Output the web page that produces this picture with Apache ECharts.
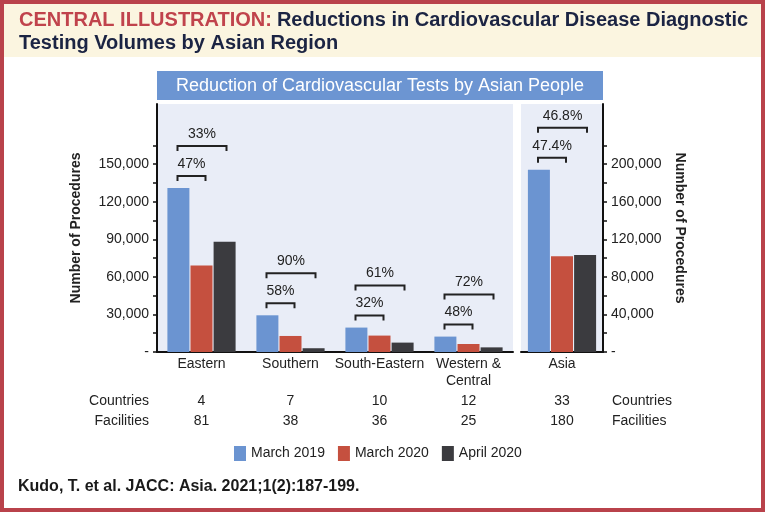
<!DOCTYPE html>
<html>
<head>
<meta charset="utf-8">
<script src="https://cdn.jsdelivr.net/npm/echarts@6/dist/echarts.min.js"></script>
<style>
  html, body { margin: 0; padding: 0; background: #fff; }
  #chart { width: 765px; height: 512px; }
</style>
</head>
<body>
<div id="chart"></div>
<script>
// regional volumes (left panel)
const regions = ['Eastern', 'Southern', 'South-Eastern', 'Western &\nCentral']
const mar2019 = [131000, 29300, 19500, 12300]
const mar2020 = [69000, 12800, 13100, 6400]
const apr2020 = [88000, 3000, 7500, 3700]
const dropMar = ['47%', '58%', '32%', '48%']
const dropApr = ['33%', '90%', '61%', '72%']
const countries = [4, 7, 10, 12]
const facilities = [81, 38, 36, 25]

// whole of Asia (right panel)
const total = ['Asia']
const totalMar2019 = [194000]
const totalMar2020 = [101800]
const totalApr2020 = [103200]
const totalDropMar = ['47.4%']
const totalDropApr = ['46.8%']
const totalCountries = [33]
const totalFacilities = [180]

const leftLabels = [0, 30000, 60000, 90000, 120000, 150000]
const leftTicks = [0, 15000, 30000, 45000, 60000, 75000, 90000, 105000, 120000, 135000, 150000, 165000]
const rightLabels = [0, 40000, 80000, 120000, 160000, 200000]
const rightTicks = [0, 20000, 40000, 60000, 80000, 100000, 120000, 140000, 160000, 180000, 200000, 220000]

const FONT = "'Liberation Sans', Arial, sans-serif"
const INK = '#222'
const BLUE = '#6b94d1'
const RED = '#c5503f'
const DARK = '#3b3b3f'

const chart = echarts.init(document.getElementById('chart'))

function fmt(v) {
  return v === 0 ? '-' : v.toLocaleString('en-US')
}

function bracket(x0, x1, y) {
  return {
    type: 'polyline',
    shape: { points: [[x0, y + 5], [x0, y], [x1, y], [x1, y + 5]] },
    style: { stroke: INK, lineWidth: 2, fill: null }
  }
}

function pctText(txt, x, y) {
  return {
    type: 'text',
    style: {
      text: txt, x: x, y: y, align: 'center', verticalAlign: 'middle',
      fontSize: 14, fill: INK, fontFamily: FONT
    }
  }
}

// brackets sit above the March 2019 bar of each group
function bracketRenderer(base, labMar, labApr) {
  return function (params, api) {
    const i = params.dataIndex
    const top = api.coord([i, base[i]])
    const cx = top[0]
    const y1 = top[1] - 12
    const y2 = y1 - 30
    const x0 = cx - 24
    return {
      type: 'group',
      children: [
        bracket(x0, cx + 4, y1),
        pctText(labMar[i], (x0 + cx + 4) / 2, y1 - 12),
        bracket(x0, cx + 25, y2),
        pctText(labApr[i], (x0 + cx + 25) / 2, y2 - 12)
      ]
    }
  }
}

function rowAxis(gridIndex, data, offset) {
  return {
    type: 'category', gridIndex: gridIndex, position: 'bottom', offset: offset,
    data: data,
    axisLine: { show: false }, axisTick: { show: false },
    axisLabel: { margin: 4, fontSize: 14, lineHeight: 17, color: INK, fontFamily: FONT }
  }
}

function catAxis(gridIndex, data) {
  return {
    type: 'category', gridIndex: gridIndex, position: 'bottom',
    data: data,
    axisLine: { lineStyle: { color: '#111', width: 2 } },
    axisTick: { show: false },
    axisLabel: { margin: 4, fontSize: 14, lineHeight: 17, color: INK, fontFamily: FONT, interval: 0 }
  }
}

const barBase = { type: 'bar', barWidth: 22, barGap: '5%', silent: true }

chart.setOption({
  animation: false,
  textStyle: { fontFamily: FONT },
  title: [
    {
      left: 14, top: 4,
      text: '{r|CENTRAL ILLUSTRATION:} {b|Reductions in Cardiovascular Disease Diagnostic}\n{b|Testing Volumes by Asian Region}',
      textStyle: {
        rich: {
          r: { fontSize: 20, fontWeight: 'bold', color: '#c0434c', fontFamily: FONT, lineHeight: 23 },
          b: { fontSize: 20, fontWeight: 'bold', color: '#1b2443', fontFamily: FONT, lineHeight: 23 }
        }
      }
    },
    {
      left: 13, top: 474,
      text: 'Kudo, T. et al. JACC: Asia. 2021;1(2):187-199.',
      textStyle: { fontSize: 16, fontWeight: 'bold', color: '#1a1a1a', fontFamily: FONT }
    }
  ],
  graphic: [
    { type: 'rect', z: 0, shape: { x: 4, y: 4, width: 757, height: 53 }, style: { fill: '#fbf5e0' } },
    { type: 'rect', z: 10, shape: { x: 2, y: 2, width: 761, height: 508 }, style: { fill: null, stroke: '#b9424b', lineWidth: 4 } },
    { type: 'rect', shape: { x: 157, y: 71, width: 446, height: 29 }, style: { fill: '#6c95d2' } },
    {
      type: 'text', style: {
        text: 'Reduction of Cardiovascular Tests by Asian People', x: 380, y: 86,
        align: 'center', verticalAlign: 'middle', fontSize: 18, fill: '#fff', fontFamily: FONT
      }
    },
    { type: 'text', style: { text: 'Countries', x: 149, y: 401, align: 'right', verticalAlign: 'middle', fontSize: 14, fill: INK, fontFamily: FONT } },
    { type: 'text', style: { text: 'Facilities', x: 149, y: 421, align: 'right', verticalAlign: 'middle', fontSize: 14, fill: INK, fontFamily: FONT } },
    { type: 'text', style: { text: 'Countries', x: 612, y: 401, align: 'left', verticalAlign: 'middle', fontSize: 14, fill: INK, fontFamily: FONT } },
    { type: 'text', style: { text: 'Facilities', x: 612, y: 421, align: 'left', verticalAlign: 'middle', fontSize: 14, fill: INK, fontFamily: FONT } }
  ],
  legend: {
    left: 229, top: 441,
    data: ['March 2019', 'March 2020', 'April 2020'],
    icon: 'rect', itemWidth: 12, itemHeight: 15, itemGap: 13,
    textStyle: { fontSize: 14, color: INK, fontFamily: FONT }
  },
  grid: [
    { left: 157, top: 104, width: 356, bottom: 160, show: true, backgroundColor: '#e9edf7', borderWidth: 0 },
    { left: 521, top: 104, width: 82, bottom: 160, show: true, backgroundColor: '#e9edf7', borderWidth: 0 }
  ],
  xAxis: [
    catAxis(0, regions),
    rowAxis(0, countries, 37),
    rowAxis(0, facilities, 57),
    catAxis(1, total),
    rowAxis(1, totalCountries, 37),
    rowAxis(1, totalFacilities, 57)
  ],
  yAxis: [
    {
      type: 'value', gridIndex: 0, position: 'left', min: 0, max: 198000,
      name: 'Number of Procedures', nameLocation: 'middle', nameGap: 74,
      nameTextStyle: { fontSize: 14, fontWeight: 'bold', color: INK, fontFamily: FONT },
      axisLine: { show: true, lineStyle: { color: '#111', width: 2 } },
      axisTick: { show: true, length: 4, customValues: leftTicks, lineStyle: { color: '#111', width: 1.5 } },
      axisLabel: { customValues: leftLabels, formatter: fmt, margin: 8, fontSize: 14, color: INK, fontFamily: FONT },
      splitLine: { show: false }
    },
    {
      type: 'value', gridIndex: 1, position: 'right', min: 0, max: 264000,
      name: 'Number of Procedures', nameLocation: 'middle', nameGap: 70, nameRotate: -90,
      nameTextStyle: { fontSize: 14, fontWeight: 'bold', color: INK, fontFamily: FONT },
      axisLine: { show: true, lineStyle: { color: '#111', width: 2 } },
      axisTick: { show: true, length: 4, customValues: rightTicks, lineStyle: { color: '#111', width: 1.5 } },
      axisLabel: { customValues: rightLabels, formatter: fmt, margin: 8, fontSize: 14, color: INK, fontFamily: FONT },
      splitLine: { show: false }
    }
  ],
  series: [
    { ...barBase, name: 'March 2019', xAxisIndex: 0, yAxisIndex: 0, data: mar2019, itemStyle: { color: BLUE } },
    { ...barBase, name: 'March 2020', xAxisIndex: 0, yAxisIndex: 0, data: mar2020, itemStyle: { color: RED } },
    { ...barBase, name: 'April 2020', xAxisIndex: 0, yAxisIndex: 0, data: apr2020, itemStyle: { color: DARK } },
    { ...barBase, name: 'March 2019', xAxisIndex: 3, yAxisIndex: 1, data: totalMar2019, itemStyle: { color: BLUE } },
    { ...barBase, name: 'March 2020', xAxisIndex: 3, yAxisIndex: 1, data: totalMar2020, itemStyle: { color: RED } },
    { ...barBase, name: 'April 2020', xAxisIndex: 3, yAxisIndex: 1, data: totalApr2020, itemStyle: { color: DARK } },
    {
      type: 'custom', name: 'brackets', xAxisIndex: 0, yAxisIndex: 0, silent: true,
      data: mar2019.map((v, i) => [i, v]),
      renderItem: bracketRenderer(mar2019, dropMar, dropApr)
    },
    {
      type: 'custom', name: 'bracketsTotal', xAxisIndex: 3, yAxisIndex: 1, silent: true,
      data: totalMar2019.map((v, i) => [i, v]),
      renderItem: bracketRenderer(totalMar2019, totalDropMar, totalDropApr)
    }
  ]
})
</script>
</body>
</html>
